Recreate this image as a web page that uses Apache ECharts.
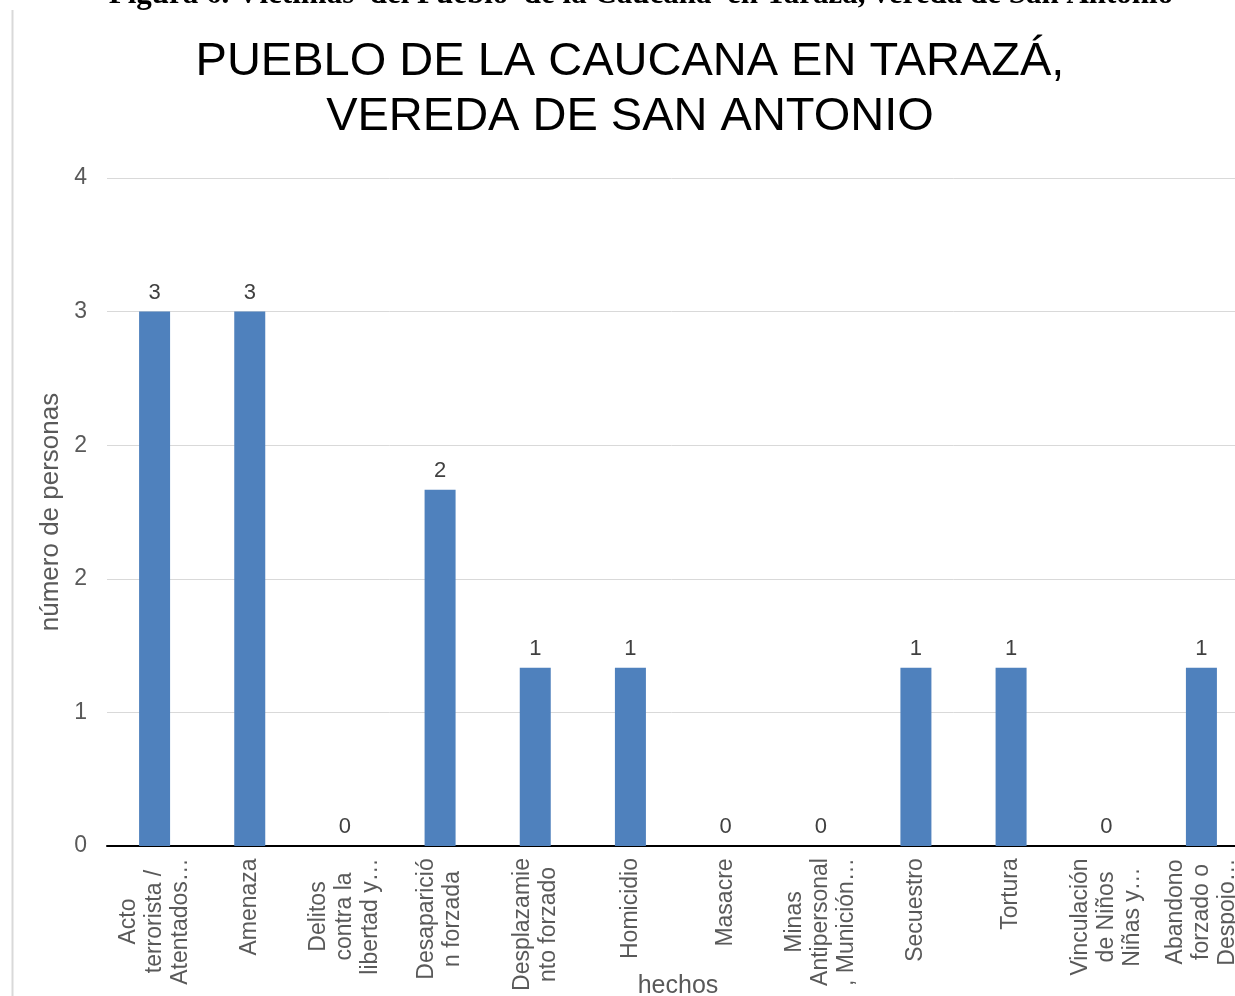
<!DOCTYPE html>
<html>
<head>
<meta charset="utf-8">
<script src="https://cdn.jsdelivr.net/npm/echarts@6/dist/echarts.min.js"></script>
<style>
  html, body { margin: 0; padding: 0; background: #fff; }
  #main { width: 1235px; height: 996px; }
</style>
</head>
<body>
<div id="main"></div>
<script>
// categorías (como se ven en el eje, con cortes de línea)
var categories = [
  'Acto\nterrorista /\nAtentados…',
  'Amenaza',
  'Delitos\ncontra la\nlibertad y…',
  'Desaparició\nn forzada',
  'Desplazamie\nnto forzado',
  'Homicidio',
  'Masacre',
  'Minas\nAntipersonal\n, Munición…',
  'Secuestro',
  'Tortura',
  'Vinculación\nde Niños\nNiñas y…',
  'Abandono\nforzado o\nDespojo…'
];
var personas = [3, 3, 0, 2, 1, 1, 0, 0, 1, 1, 0, 1];
var yTicks = [0, 0.75, 1.5, 2.25, 3, 3.75];

var labelFont = '23px "Liberation Sans", Arial, sans-serif';

// ancho de cada etiqueta para centrar las líneas como en Excel
var ctx = document.createElement('canvas').getContext('2d');
ctx.font = labelFont;
var rich = {};
categories.forEach(function (c, i) {
  var w = 0;
  c.split('\n').forEach(function (s) {
    w = Math.max(w, ctx.measureText(s).width);
  });
  rich['l' + i] = {
    width: Math.ceil(w),
    align: 'center',
    fontSize: 23,
    lineHeight: 26,
    color: '#595959',
    fontFamily: '"Liberation Sans", Arial, sans-serif'
  };
});

var chart = echarts.init(document.getElementById('main'));

var option = {
  backgroundColor: '#fff',
  animation: false,
  textStyle: {
    fontFamily: '"Liberation Sans", Arial, sans-serif'
  },
  graphic: [
    {
      type: 'line',
      shape: { x1: 12.5, y1: 10, x2: 12.5, y2: 996 },
      style: { stroke: '#d9d9d9', lineWidth: 2 }
    },
    {
      type: 'text',
      style: {
        x: 641,
        y: 10,
        text: 'Figura 6. Víctimas  del Pueblo  de la Caucana  en Tarazá, vereda de San Antonio',
        font: 'bold 31px "Liberation Serif", "Times New Roman", serif',
        textAlign: 'center',
        textVerticalAlign: 'bottom',
        fill: '#000'
      }
    },
    {
      type: 'text',
      style: {
        x: 630,
        y: 35,
        text: 'PUEBLO DE LA CAUCANA EN TARAZÁ,\nVEREDA DE SAN ANTONIO',
        font: '47px "Liberation Sans", Arial, sans-serif',
        lineHeight: 55,
        textAlign: 'center',
        textVerticalAlign: 'top',
        fill: '#000'
      }
    }
  ],
  grid: {
    left: 107,
    right: -14,
    top: 178,
    bottom: 150,
    containLabel: false,
    outerBoundsMode: 'none'
  },
  xAxis: {
    type: 'category',
    data: categories,
    name: 'hechos',
    nameLocation: 'middle',
    nameGap: 128,
    nameMoveOverlap: false,
    nameTextStyle: {
      fontSize: 25,
      color: '#595959'
    },
    axisLine: {
      lineStyle: { color: '#000', width: 2 }
    },
    axisTick: { show: false },
    axisLabel: {
      interval: 0,
      rotate: 90,
      margin: 12,
      formatter: function (value, index) {
        return value.split('\n').map(function (s) {
          return '{l' + index + '|' + s + '}';
        }).join('\n');
      },
      rich: rich
    }
  },
  yAxis: {
    type: 'value',
    min: 0,
    max: 3.75,
    interval: 0.75,
    name: 'número de personas',
    nameLocation: 'middle',
    nameGap: 43,
    nameMoveOverlap: false,
    nameTextStyle: {
      fontSize: 26,
      color: '#595959'
    },
    axisLine: { show: false },
    axisTick: { show: false },
    axisLabel: {
      fontSize: 23,
      color: '#595959',
      margin: 20,
      formatter: function (v) { return String(Math.round(v)); }
    },
    splitLine: {
      lineStyle: { color: '#d9d9d9', width: 1 }
    }
  },
  series: [
    {
      name: 'número de personas',
      type: 'bar',
      data: personas,
      barWidth: 31,
      itemStyle: { color: '#4f81bd' },
      label: {
        show: true,
        position: 'top',
        distance: 8,
        fontSize: 22,
        color: '#404040'
      }
    }
  ]
};

chart.setOption(option);
</script>
</body>
</html>
